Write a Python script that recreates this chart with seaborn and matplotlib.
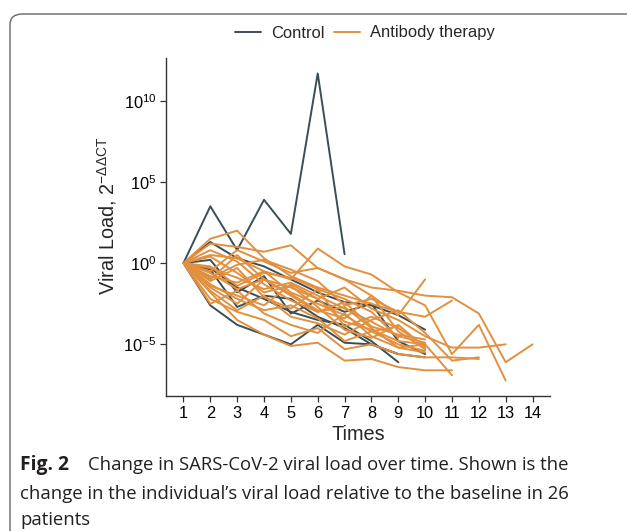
import numpy as np
import pandas as pd
import matplotlib
matplotlib.use("Agg")
import matplotlib.pyplot as plt
import seaborn as sns
from matplotlib.patches import FancyBboxPatch
from matplotlib.ticker import LogFormatterMathtext, NullLocator, FixedLocator

# ---- data: log10 of relative viral load (2^-ddCT), day index starts at 1 ----
control_log10 = [
    [0, 3.5, 0.8, 3.9, 1.8, 11.68, 0.55],
    [0, 1.3, 0.3, -0.2, -1.0, -1.8, -2.4, -2.6, -3.2, -4.1],
    [0, 0.2, -1.8, -0.8, -3.1, -2.3, -3.0, -2.5, -4.8, -5.6],
    [0, -0.4, -2.7, -2.0, -2.2, -3.3, -4.0, -5.0, -5.6],
    [0, -2.6, -3.8, -4.4, -5.0, -3.8, -4.9, -5.0, -5.6, -5.8],
    [0, -0.3, -1.5, -2.2, -3.0, -3.5, -3.8, -4.8, -6.1],
]
antibody_log10 = [
    [0, 1.5, 2.0, 0.3, -0.8, -1.5, -2.0, -2.5, -3.0],
    [0, 1.2, 1.0, 0.7, 1.1, -0.3, -1.0, -1.5, -1.7, -2.0, -2.1, -3.1, -6.1, -5.0],
    [0, 0.5, 0.3, -0.5, -1.0, 0.9, -0.2, -0.7, -1.8, -2.6, -5.6, -3.8, -7.23],
    [0, -0.5, 0.8, 0.1, -0.6, -0.3, -1.0, -2.0, -3.2, -1.0],
    [0, -1.0, 0.5, -1.0, -1.5, -2.2, -1.5, -2.8, -3.5, -4.5, -5.2, -5.2, -5.0],
    [0, -1.5, -2.5, -1.0, -2.0, -3.0, -2.7, -4.0, -5.2, -5.0, -6.9],
    [0, -1.8, -3.5, -4.4, -5.1, -4.9, -6.0, -5.9, -6.4, -6.6, -6.6],
    [0, -2.2, -3.0, -3.5, -4.5, -4.0, -5.3, -5.0, -5.6, -5.8, -5.8, -5.9],
    [0, -0.8, -1.2, -0.5, -1.8, -2.5, -3.2, -4.2, -5.0, -5.4],
    [0, -0.3, -0.9, -1.6, -1.2, -2.0, -2.8, -3.6, -4.5, -4.9],
    [0, -1.1, -0.3, -2.1, -2.8, -1.6, -3.9, -3.3, -4.0, -5.1],
    [0, -0.6, -1.6, -1.0, -1.9, -2.9, -3.4, -2.0, -4.2, -5.3],
    [0, -1.4, -2.0, -2.6, -1.3, -2.2, -3.6, -4.1, -4.8, -5.0],
    [0, 0.8, 0.1, -1.3, -2.3, -3.0, -2.4, -3.9, -4.4, -4.7],
    [0, -2.5, -1.7, -3.1, -3.8, -4.3, -3.1, -4.5, -5.2, -5.5],
    [0, -0.2, -1.4, -0.6, -0.9, -1.6, -2.2, -3.0, -4.6],
    [0, 0.4, -0.6, -1.8, -1.4, -2.7, -4.1, -4.6, -3.8, -5.2],
    [0, -1.7, -2.9, -2.0, -3.3, -3.7, -4.4, -3.5, -2.9, -4.3, -6.0, -5.8],
    [0, -0.9, -0.1, 0.2, -0.4, -1.1, -2.6, -2.2, -3.0, -3.3, -2.3],
    [0, -1.3, -2.2, -2.9, -2.6, -3.4, -4.8, -4.2, -3.9],
]
groups = ["Control", "Antibody therapy"]
x_ticks = list(range(1, 15))
y_ticks_exp = [-5, 0, 5, 10]

rows = []
pid = 0
for grp, series in zip(groups, [control_log10, antibody_log10]):
    for s in series:
        pid += 1
        for day, v in enumerate(s, start=1):
            rows.append({"Times": day, "load": 10.0 ** v, "group": grp, "patient": pid})
df = pd.DataFrame(rows)

sns.set_theme(style="white")
plt.rcParams["font.family"] = ["Liberation Sans", "DejaVu Sans"]
plt.rcParams["mathtext.fontset"] = "custom"
plt.rcParams["mathtext.rm"] = "Liberation Sans"
plt.rcParams["mathtext.it"] = "Liberation Sans:italic"
plt.rcParams["mathtext.bf"] = "Liberation Sans:bold"

W, H = 627, 531
fig = plt.figure(figsize=(W / 100, H / 100), dpi=100)
ax = fig.add_axes([166 / W, 1 - 396 / H, (550 - 166) / W, (396 - 58) / H])

palette = {"Control": "#3b4d55", "Antibody therapy": "#e0903f"}
sns.lineplot(data=df, x="Times", y="load", hue="group", units="patient",
             estimator=None, palette=palette, linewidth=1.4, ax=ax,
             hue_order=groups, legend=True)

ax.set_yscale("log")
ax.set_ylim(10 ** -8.18, 10 ** 12.63)
ax.set_xlim(0.35, 14.65)
ax.set_xticks(x_ticks)
ax.set_xticklabels([str(t) for t in x_ticks])
ax.yaxis.set_major_locator(FixedLocator([10.0 ** e for e in y_ticks_exp]))
ax.yaxis.set_major_formatter(LogFormatterMathtext())
ax.yaxis.set_minor_locator(NullLocator())

for sp in ["top", "right"]:
    ax.spines[sp].set_visible(False)
for sp in ["left", "bottom"]:
    ax.spines[sp].set_color("#333333")
    ax.spines[sp].set_linewidth(1.0)
ax.tick_params(axis="both", which="major", length=4, width=0.9, color="#333333",
               labelsize=11.8, labelcolor="black", direction="out", pad=3)
ax.tick_params(axis="both", bottom=True, left=True)
ax.set_xlabel("Times", fontsize=14.3, labelpad=3)
ax.set_ylabel(r"Viral Load, $2^{-\Delta\Delta\mathrm{CT}}$", fontsize=14.3)
ax.yaxis.set_label_coords((119 - 166) / 384, (396 - 216) / 338)

# legend on top
handles, labels = ax.get_legend_handles_labels()
ax.get_legend().remove()
fig.legend(handles, labels, loc="center", bbox_to_anchor=(365 / W, 1 - 33 / H),
           ncol=2, frameon=False, fontsize=11.9, handlelength=1.55,
           handletextpad=0.65, columnspacing=0.55)

# figure border box (rounded, mostly clipped)
box = FancyBboxPatch((10 / W, -0.02), 1.2, 1 - 14 / H + 0.02,
                     boxstyle="round,pad=0,rounding_size=0.02",
                     transform=fig.transFigure, fill=False,
                     edgecolor="#666666", linewidth=1.0)
fig.patches.append(box)

# caption
cap_font = ["Open Sans", "DejaVu Sans"]
cs = 13.3
fig.text(20 / W, 1 - 465 / H, "Fig. 2", fontsize=cs + 0.6, fontweight="bold",
         family=cap_font, va="center", ha="left", color="#231f20")
fig.text(88 / W, 1 - 465 / H, "Change in SARS-CoV-2 viral load over time. Shown is the",
         fontsize=cs, family=cap_font, va="center", ha="left", color="#231f20")
fig.text(20 / W, 1 - 494 / H,
         "change in the individual\u2019s viral load relative to the baseline in 26",
         fontsize=cs, family=cap_font, va="center", ha="left", color="#231f20")
fig.text(20 / W, 1 - 520 / H, "patients", fontsize=cs, family=cap_font,
         va="center", ha="left", color="#231f20")

fig.savefig("out.png", dpi=100)
